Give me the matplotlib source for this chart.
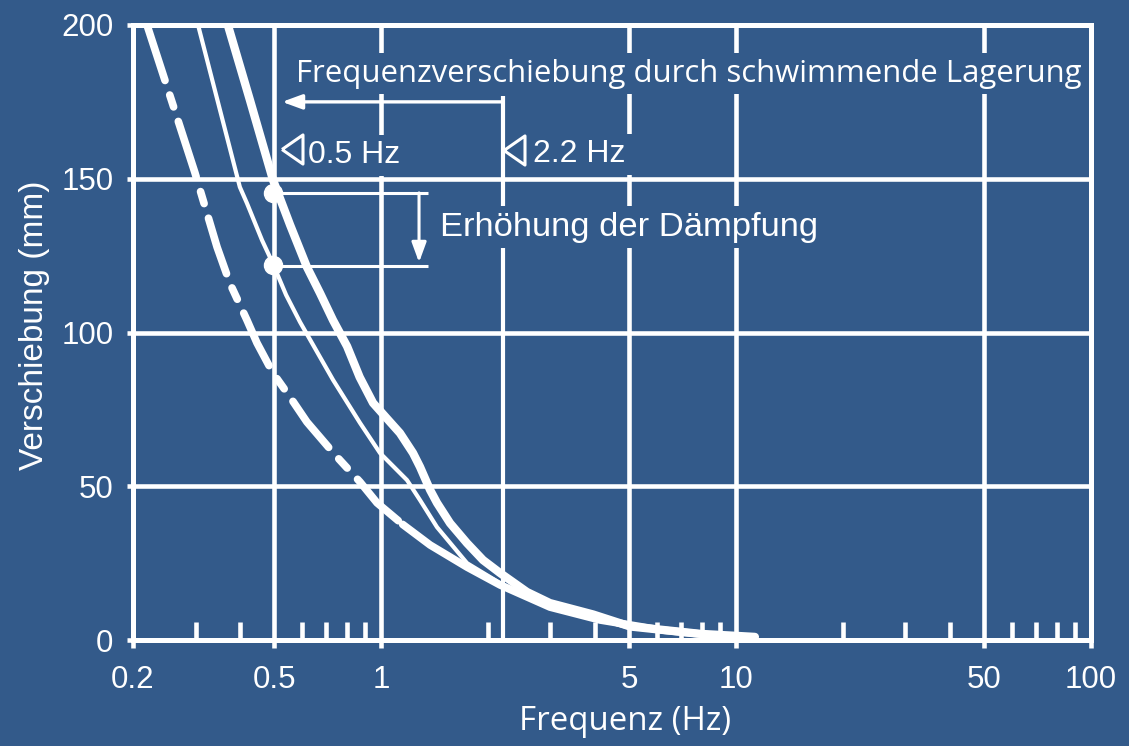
import matplotlib
matplotlib.use('Agg')
import matplotlib.pyplot as plt
from matplotlib.ticker import FixedLocator, NullFormatter

plt.rcParams['lines.scale_dashes'] = False

BG = '#335a8a'
FG = 'white'

# ---- data ----
x_major = [0.2, 0.5, 1, 5, 10, 50, 100]
x_labels = ['0.2', '0.5', '1', '5', '10', '50', '100']
x_minor = [0.3, 0.4, 0.6, 0.7, 0.8, 0.9, 2, 3, 4, 6, 7, 8, 9,
           20, 30, 40, 60, 70, 80, 90]
y_major = [0, 50, 100, 150, 200]
y_labels = ['0', '50', '100', '150', '200']

# thick solid curve
freq_thick = [0.370, 0.427, 0.496, 0.554, 0.618, 0.673, 0.732, 0.802, 0.870,
              0.949, 1.039, 1.130, 1.23, 1.287, 1.374, 1.437, 1.564, 1.746,
              1.937, 2.163, 2.577, 2.99, 3.955, 5.03, 7.92, 11.3]
disp_thick = [200, 175.6, 149.6, 135, 121.3, 112.8, 104, 95.5, 85.5,
              77.1, 72.0, 67.3, 60.8, 56.3, 48.8, 44.6, 38, 31.5,
              26, 21.8, 15.6, 12, 8.3, 4.4, 2, 1]

# thin solid curve
freq_thin = [0.305, 0.400, 0.419, 0.462, 0.493, 0.540, 0.591, 0.732, 0.872,
             0.993, 1.183, 1.287, 1.437, 1.746, 2.163, 2.99, 5.03, 9.62]
disp_thin = [200, 147.3, 142, 130, 123.0, 112.2, 103.4, 84.6, 70.6,
             60.8, 52, 45.5, 36.7, 25, 18.5, 11.4, 3.9, 1]

# dash-dot curve (dashed part, then solid part)
freq_dash = [0.219, 0.266, 0.299, 0.345, 0.375, 0.419, 0.447, 0.496, 0.554,
             0.618, 0.742, 0.872, 0.974, 1.15]
disp_dash = [200, 170, 151.9, 127.8, 116, 104, 96.6, 86.8, 79,
             70.9, 60.2, 51.4, 44.6, 37.6]
freq_dash_solid = [1.15, 1.374, 1.746, 2.163, 2.99, 4.14, 6.11, 9.0]
disp_dash_solid = [37.6, 30.9, 23.7, 17.9, 10.7, 6.5, 3.3, 1.3]

# damping markers at 0.5 Hz
marker_f = [0.496, 0.496]
marker_y = [145.4, 122.0]

shift_from, shift_to, shift_y = 2.2, 0.526, 175
damp_x0, damp_x1, damp_arrow_x = 0.496, 1.356, 1.279
damp_top, damp_bot = 145.4, 121.6

fig = plt.figure(figsize=(11.29, 7.46), dpi=100, facecolor=BG)
ax = fig.add_axes([133/1129, 1-640/746, 958/1129, 615/746])
ax.set_facecolor(BG)
ax.set_xscale('log')
ax.set_xlim(0.2, 100)
ax.set_ylim(0, 200)

for s in ax.spines.values():
    s.set_color(FG)
    s.set_linewidth(3.6)

ax.xaxis.set_major_locator(FixedLocator(x_major))
ax.set_xticklabels(x_labels)
ax.xaxis.set_minor_locator(FixedLocator(x_minor))
ax.xaxis.set_minor_formatter(NullFormatter())
ax.yaxis.set_major_locator(FixedLocator(y_major))
ax.set_yticklabels(y_labels)

num_font = 'Liberation Sans'
ax.tick_params(axis='x', which='major', direction='out', length=6, width=3.3,
               colors=FG, labelsize=22.5, pad=12)
ax.tick_params(axis='x', which='minor', direction='in', length=13, width=3.3,
               colors=FG)
ax.tick_params(axis='y', which='major', direction='out', length=4, width=3.3,
               colors=FG, labelsize=22.5, pad=10)
for lab in ax.get_xticklabels() + ax.get_yticklabels():
    lab.set_fontfamily(num_font)

ax.grid(True, which='major', axis='both', color=FG, lw=3.3)
ax.set_axisbelow(True)

# 2.2 Hz marker line
ax.vlines(shift_from, 0, 177, color=FG, lw=3.0, zorder=1)

# curves
ax.plot(freq_thick, disp_thick, color=FG, lw=6.0, solid_capstyle='round',
        solid_joinstyle='round', zorder=4)
ax.plot(freq_thin, disp_thin, color=FG, lw=3.0, solid_capstyle='round',
        solid_joinstyle='round', zorder=4)
ax.plot(freq_dash, disp_dash, color=FG, lw=5.5, dash_capstyle='round',
        dashes=(42, 11, 9, 11), zorder=4)
ax.plot(freq_dash_solid, disp_dash_solid, color=FG, lw=5.5,
        solid_capstyle='round', solid_joinstyle='round', zorder=4)
ax.plot(marker_f, marker_y, 'o', color=FG, ms=13, zorder=5)

# frequency shift arrow
ax.annotate('', xy=(shift_to, shift_y), xytext=(shift_from, shift_y),
            arrowprops=dict(arrowstyle='-|>,head_length=0.6,head_width=0.22',
                            color=FG, lw=2.4, shrinkA=0, shrinkB=0,
                            mutation_scale=20), zorder=4)
# damping lines + arrow
ax.hlines([damp_top, damp_bot], damp_x0, damp_x1, color=FG, lw=2.2, zorder=4)
ax.annotate('', xy=(damp_arrow_x, damp_bot + 1.2), xytext=(damp_arrow_x, damp_top),
            arrowprops=dict(arrowstyle='-|>,head_length=0.6,head_width=0.22',
                            color=FG, lw=2.2, shrinkA=0, shrinkB=0,
                            mutation_scale=20), zorder=4)

# triangles
tri = [(-0.72, 0), (0.72, 1), (0.72, -1), (-0.72, 0)]
ax.plot([0.561, 2.37], [159.8, 159.4], linestyle='none', marker=tri, ms=21,
        markerfacecolor='none', markeredgecolor=FG, markeredgewidth=2.2, zorder=5)

box = dict(facecolor=BG, edgecolor='none', pad=4)
ax.text(0.576, 181.5, 'Frequenzverschiebung durch schwimmende Lagerung',
        color=FG, fontsize=22.4, family='Open Sans', va='baseline', ha='left',
        bbox=box, zorder=3)
ax.text(0.622, 155, '0.5 Hz', color=FG, fontsize=23, family=num_font,
        va='baseline', ha='left', bbox=box, zorder=3)
ax.text(2.68, 155.4, '2.2 Hz ', color=FG, fontsize=23, family=num_font,
        va='baseline', ha='left', bbox=box, zorder=3)
ax.text(1.466, 131.4, 'Erhöhung der Dämpfung', color=FG, fontsize=24.8,
        family=num_font, va='baseline', ha='left', bbox=box, zorder=3)

ax.set_xlabel('Frequenz (Hz)', color=FG, fontsize=23.8, family='Open Sans')
ax.xaxis.set_label_coords((625-133)/958, (640-722)/615)
ax.xaxis.label.set_va('center')
ax.set_ylabel('Verschiebung (mm)', color=FG, fontsize=24, family=num_font)
ax.yaxis.set_label_coords((35-133)/958, (640-325)/615)
ax.yaxis.label.set_va('center')

fig.savefig('out.png', dpi=100, facecolor=BG)
